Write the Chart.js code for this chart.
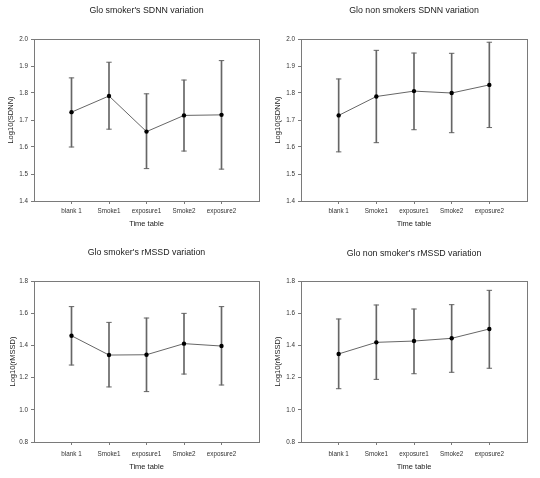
<!DOCTYPE html>
<html>
<head>
<meta charset="utf-8">
<script src="https://cdn.jsdelivr.net/npm/chart.js@4"></script>
<style>
  body { margin: 0; background: #fff; width: 540px; height: 478px; position: relative; overflow: hidden; }
  canvas { position: absolute; }
</style>
</head>
<body>
<canvas id="c1" width="270" height="238" style="left:0;top:0"></canvas>
<canvas id="c2" width="270" height="238" style="left:270px;top:0"></canvas>
<canvas id="c3" width="270" height="240" style="left:0;top:238px"></canvas>
<canvas id="c4" width="270" height="240" style="left:270px;top:238px"></canvas>
<script>
const categories = ['blank 1', 'Smoke1', 'exposure1', 'Smoke2', 'exposure2'];

const sdnnTicks = [1.4, 1.5, 1.6, 1.7, 1.8, 1.9, 2.0];
const rmssdTicks = [0.8, 1.0, 1.2, 1.4, 1.6, 1.8];

// Glo smoker's SDNN
const smokerSdnnMean = [1.729, 1.789, 1.657, 1.717, 1.719];
const smokerSdnnUpper = [1.856, 1.914, 1.797, 1.848, 1.920];
const smokerSdnnLower = [1.600, 1.666, 1.520, 1.585, 1.518];

// Glo non smokers SDNN
const nonSmokerSdnnMean = [1.717, 1.787, 1.807, 1.800, 1.830];
const nonSmokerSdnnUpper = [1.852, 1.958, 1.948, 1.947, 1.988];
const nonSmokerSdnnLower = [1.582, 1.616, 1.664, 1.653, 1.672];

// Glo smoker's rMSSD
const smokerRmssdMean = [1.460, 1.340, 1.342, 1.411, 1.396];
const smokerRmssdUpper = [1.641, 1.543, 1.570, 1.599, 1.641];
const smokerRmssdLower = [1.278, 1.142, 1.113, 1.222, 1.154];

// Glo non smoker's rMSSD
const nonSmokerRmssdMean = [1.347, 1.419, 1.427, 1.444, 1.502];
const nonSmokerRmssdUpper = [1.564, 1.651, 1.626, 1.653, 1.742];
const nonSmokerRmssdLower = [1.131, 1.189, 1.224, 1.233, 1.258];

const FONT = "'Liberation Sans', Arial, sans-serif";
const frameColor = '#7a7a7a';
const barColor = '#666';

// build one panel; box = chart area edges inside its canvas
function makePanel(id, p) {
  const canvas = document.getElementById(id);
  const W = canvas.width, H = canvas.height;
  const pts = arr => arr.map((v, i) => ({ x: i + 1, y: v }));
  const yMin = p.ticks[0], yMax = p.ticks[p.ticks.length - 1];

  return new Chart(canvas, {
    data: {
      datasets: [
        {
          type: 'line',
          data: pts(p.mean),
          borderColor: '#666',
          borderWidth: 1,
          pointRadius: 2.2,
          pointBackgroundColor: '#000',
          pointBorderColor: '#000',
          pointBorderWidth: 0,
          order: 0
        },
        {
          type: 'bar',
          data: p.mean.map((v, i) => ({ x: i + 1, y: [p.lower[i], p.upper[i]] })),
          backgroundColor: barColor,
          barThickness: 1,
          order: 2
        },
        {
          type: 'line',
          data: pts(p.upper),
          showLine: false,
          pointStyle: 'line',
          pointRadius: 2.7,
          borderColor: barColor,
          pointBorderWidth: 1,
          order: 1
        },
        {
          type: 'line',
          data: pts(p.lower),
          showLine: false,
          pointStyle: 'line',
          pointRadius: 2.7,
          borderColor: barColor,
          pointBorderWidth: 1,
          order: 1
        }
      ]
    },
    options: {
      responsive: false,
      animation: false,
      devicePixelRatio: 1,
      layout: { padding: 0 },
      plugins: { legend: { display: false }, tooltip: { enabled: false } },
      scales: {
        x: {
          type: 'linear',
          position: 'bottom',
          min: 0,
          max: 6,
          offset: false,
          afterBuildTicks: axis => { axis.ticks = categories.map((c, i) => ({ value: i + 1 })); },
          afterFit: axis => { axis.height = H - p.box.bottom; },
          ticks: {
            callback: v => categories[v - 1],
            autoSkip: false,
            maxRotation: 0,
            minRotation: 0,
            padding: p.xTickPad,
            color: '#333',
            font: { family: FONT, size: 6.3 }
          },
          grid: { offset: false, drawOnChartArea: false, drawTicks: true, tickLength: 3, color: frameColor },
          border: { color: frameColor, width: 1 },
          title: {
            display: true,
            text: 'Time table',
            color: '#222',
            font: { family: FONT, size: 7.5 },
            padding: { top: 0, bottom: p.xTitlePad }
          }
        },
        x2: {
          type: 'linear',
          position: 'top',
          min: 0,
          max: 6,
          offset: false,
          afterFit: axis => { axis.height = p.box.top; },
          ticks: { display: false },
          grid: { display: false, offset: false },
          border: { color: frameColor, width: 1 },
          title: {
            display: true,
            text: p.title,
            color: '#222',
            font: { family: FONT, size: 8.8 },
            padding: { top: p.titlePad, bottom: 0 }
          }
        },
        y: {
          type: 'linear',
          position: 'left',
          min: yMin,
          max: yMax,
          afterBuildTicks: axis => { axis.ticks = p.ticks.map(v => ({ value: v })); },
          afterFit: axis => { axis.width = p.box.left; },
          ticks: {
            callback: v => v.toFixed(1),
            padding: 3,
            color: '#333',
            font: { family: FONT, size: 6.3 }
          },
          grid: { drawOnChartArea: false, drawTicks: true, tickLength: 3, color: frameColor },
          border: { color: frameColor, width: 1 },
          title: {
            display: true,
            text: p.yTitle,
            color: '#222',
            font: { family: FONT, size: 7.5 },
            padding: { top: p.yTitlePad, bottom: 0 }
          }
        },
        y2: {
          type: 'linear',
          position: 'right',
          min: yMin,
          max: yMax,
          afterFit: axis => { axis.width = W - p.box.right; },
          ticks: { display: false },
          grid: { display: false },
          border: { color: frameColor, width: 1 }
        }
      }
    }
  });
}

makePanel('c1', {
  title: "Glo smoker's SDNN variation", yTitle: 'Log10(SDNN)', ticks: sdnnTicks,
  mean: smokerSdnnMean, upper: smokerSdnnUpper, lower: smokerSdnnLower,
  box: { left: 34, right: 259, top: 39, bottom: 201 },
  titlePad: 5.7, yTitlePad: 6.7, xTitlePad: 9.5, xTickPad: 3
});
makePanel('c2', {
  title: 'Glo non smokers SDNN variation', yTitle: 'Log10(SDNN)', ticks: sdnnTicks,
  mean: nonSmokerSdnnMean, upper: nonSmokerSdnnUpper, lower: nonSmokerSdnnLower,
  box: { left: 31, right: 257, top: 39, bottom: 201 },
  titlePad: 5.7, yTitlePad: 3.5, xTitlePad: 9.5, xTickPad: 3
});
makePanel('c3', {
  title: "Glo smoker's rMSSD variation", yTitle: 'Log10(rMSSD)', ticks: rmssdTicks,
  mean: smokerRmssdMean, upper: smokerRmssdUpper, lower: smokerRmssdLower,
  box: { left: 34, right: 259, top: 43, bottom: 204 },
  titlePad: 9.2, yTitlePad: 8.2, xTitlePad: 6.8, xTickPad: 5
});
makePanel('c4', {
  title: "Glo non smoker's rMSSD variation", yTitle: 'Log10(rMSSD)', ticks: rmssdTicks,
  mean: nonSmokerRmssdMean, upper: nonSmokerRmssdUpper, lower: nonSmokerRmssdLower,
  box: { left: 31, right: 257, top: 43, bottom: 204 },
  titlePad: 10, yTitlePad: 3.5, xTitlePad: 6.8, xTickPad: 5
});
</script>
</body>
</html>
